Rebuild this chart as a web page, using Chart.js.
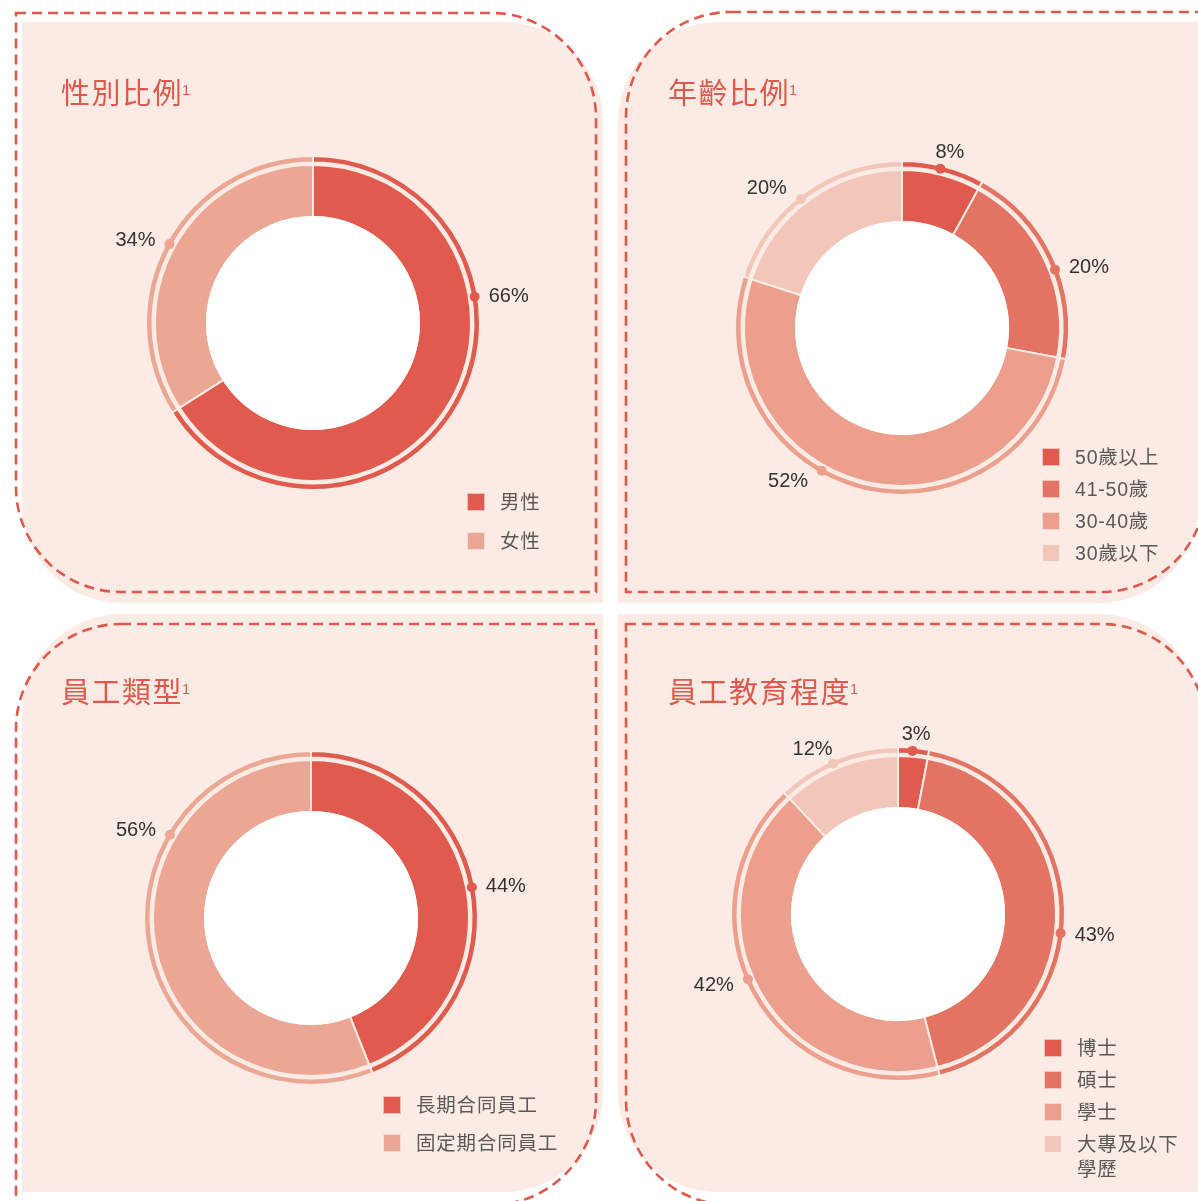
<!DOCTYPE html>
<html>
<head>
<meta charset="utf-8">
<script src="https://cdn.jsdelivr.net/npm/chart.js@4/dist/chart.umd.min.js"></script>
<style>
  html, body { margin: 0; padding: 0; }
  body { width: 1198px; height: 1201px; overflow: hidden; background: #ffffff; position: relative;
         font-family: "Liberation Sans", "Noto Sans CJK TC", sans-serif; }
  #deco { position: absolute; left: 0; top: 0; z-index: 0; }
  canvas { position: absolute; z-index: 1; }
  .title { position: absolute; z-index: 2; font-family: "Noto Sans CJK TC", sans-serif; font-size: 29px;
           line-height: 29px; letter-spacing: 1.5px; color: #e0584c; white-space: nowrap; }
  .title .sup { font-family: "Liberation Sans", sans-serif; font-size: 14.5px; line-height: 14px; letter-spacing: 0;
                vertical-align: baseline; position: relative; top: -9px; margin-left: -1px; }
  .lg-sq { position: absolute; z-index: 2; width: 18px; height: 18px; box-sizing: border-box; border: 1px solid rgba(255,255,255,0.6); }
  .lg-tx { position: absolute; z-index: 2; font-family: "Liberation Sans", "Noto Sans CJK TC", sans-serif;
           font-size: 19.5px; line-height: 25px; letter-spacing: 0.8px; color: #595959; }
</style>
</head>
<body>
<svg id="deco" width="1198" height="1201" xmlns="http://www.w3.org/2000/svg"></svg>

<script>
// ---------------- data ----------------
const genderLabels = ['男性', '女性'];
const genderValues = [66, 34];

const ageLabels = ['50歲以上', '41-50歲', '30-40歲', '30歲以下'];
const ageValues = [8, 20, 52, 20];

const typeLabels = ['長期合同員工', '固定期合同員工'];
const typeValues = [44, 56];

const eduLabels = ['博士', '碩士', '學士', '大專及以下學歷'];
const eduValues = [3, 43, 42, 12];

const panelTitles = ['性別比例', '年齡比例', '員工類型', '員工教育程度'];

// ---------------- styles ----------------
const BG = '#fbebe4';
const DASH = '#e0574c';
const twoColors = ['#e05a4e', '#eba794'];
const fourColors = ['#e05a4e', '#e37463', '#ec9f8c', '#f3c6ba'];

// ---------------- panel decoration ----------------
function rrPath(x, y, w, h, r) {
  const [tl, tr, br, bl] = r;
  return `M${x + tl},${y} H${x + w - tr} ` +
    (tr ? `A${tr},${tr} 0 0 1 ${x + w},${y + tr} ` : '') +
    `V${y + h - br} ` +
    (br ? `A${br},${br} 0 0 1 ${x + w - br},${y + h} ` : '') +
    `H${x + bl} ` +
    (bl ? `A${bl},${bl} 0 0 1 ${x},${y + h - bl} ` : '') +
    `V${y + tl} ` +
    (tl ? `A${tl},${tl} 0 0 1 ${x + tl},${y} ` : '') + 'Z';
}
const svg = document.getElementById('deco');
const bgShapes = [
  [22, 22, 581, 581, [0, 100, 0, 100]],
  [618, 22, 581, 581, [100, 0, 100, 0]],
  [22, 614, 581, 578, [100, 0, 100, 0]],
  [618, 614, 581, 578, [0, 100, 0, 100]]
];
const dashShapes = [
  [16, 13, 580, 579, [0, 105, 0, 105]],
  [626, 12, 580, 580, [105, 0, 105, 0]],
  [16, 624, 580, 581, [105, 0, 105, 0]],
  [626, 624, 580, 581, [0, 105, 0, 105]]
];
let svgInner = '';
bgShapes.forEach(s => { svgInner += `<path d="${rrPath(...s)}" fill="${BG}"/>`; });
dashShapes.forEach(s => { svgInner += `<path d="${rrPath(...s)}" fill="none" stroke="${DASH}" stroke-width="2.6" stroke-dasharray="10 6"/>`; });
svg.innerHTML = svgInner;

// ---------------- titles ----------------
const titlePos = [[61, 77], [668, 77], [61, 676], [668, 676]];
panelTitles.forEach((t, i) => {
  const d = document.createElement('div');
  d.className = 'title';
  d.style.left = titlePos[i][0] + 'px';
  d.style.top = titlePos[i][1] + 'px';
  d.innerHTML = t + '<span class="sup">1</span>';
  document.body.appendChild(d);
});

// ---------------- chart plugin: hole, dots, labels ----------------
const ringDecor = {
  id: 'ringDecor',
  afterDatasetsDraw(chart, args, opts) {
    const ctx = chart.ctx;
    const thin = chart.getDatasetMeta(0);
    const main = chart.getDatasetMeta(2);
    const first = main.data[0];
    const cx = first.x, cy = first.y;
    ctx.save();
    ctx.beginPath();
    ctx.arc(cx, cy, first.innerRadius + 1, 0, Math.PI * 2);
    ctx.fillStyle = '#ffffff';
    ctx.fill();
    const ds = chart.data.datasets[2];
    const at = opts.labelAt || [];
    main.data.forEach((arc, i) => {
      const t = thin.data[i];
      const rDot = (t.innerRadius + t.outerRadius) / 2;
      const fr = at[i] !== undefined ? at[i] : 0.5;
      const a = arc.startAngle + (arc.endAngle - arc.startAngle) * fr;
      const dx = Math.cos(a), dy = Math.sin(a);
      const px = cx + dx * rDot, py = cy + dy * rDot;
      ctx.beginPath();
      ctx.arc(px, py, 5, 0, Math.PI * 2);
      ctx.fillStyle = ds.backgroundColor[i];
      ctx.fill();
      const txt = ds.data[i] + '%';
      ctx.font = '20px "Liberation Sans", Arial, sans-serif';
      const w = ctx.measureText(txt).width;
      const ax = Math.abs(dx) > 0.45 ? px + Math.sign(dx) * 14 : px + dx * 12;
      const ay = py + dy * 11;
      const f = Math.min(0, Math.max(-1, dx - 0.5));
      const up = -dy;
      const extra = -7 * Math.min(1, Math.max(0, (up - 0.5) / 0.5));
      ctx.fillStyle = '#333333';
      ctx.textAlign = 'left';
      ctx.textBaseline = 'alphabetic';
      ctx.fillText(txt, ax + f * w, ay + extra + 7);
    });
    ctx.restore();
  }
};

const OUTER = 167, INNER = 106;
function makeDonut(center, labels, values, colors, labelAt) {
  const cv = document.createElement('canvas');
  cv.width = 500; cv.height = 500;
  cv.style.left = (center[0] - 250) + 'px';
  cv.style.top = (center[1] - 250) + 'px';
  document.body.appendChild(cv);
  new Chart(cv, {
    type: 'doughnut',
    data: {
      labels: labels,
      datasets: [
        { data: values, backgroundColor: colors, borderColor: BG, borderWidth: 2, weight: 6.5 },
        { data: [1], backgroundColor: 'rgba(0,0,0,0)', borderWidth: 0, weight: 2.5 },
        { data: values, backgroundColor: colors, borderColor: BG, borderWidth: 2, weight: 52 }
      ]
    },
    options: {
      responsive: false,
      animation: false,
      events: [],
      radius: OUTER,
      cutout: (INNER / OUTER * 100) + '%',
      layout: { padding: 0 },
      plugins: { legend: { display: false }, tooltip: { enabled: false }, ringDecor: { labelAt: labelAt } }
    },
    plugins: [ringDecor]
  });
}

function makeLegend(sqLeft, firstCenter, step, labels, colors, maxWidth) {
  labels.forEach((lab, i) => {
    const yc = firstCenter + i * step;
    const sq = document.createElement('div');
    sq.className = 'lg-sq';
    sq.style.left = sqLeft + 'px';
    sq.style.top = (yc - 9) + 'px';
    sq.style.background = colors[i];
    document.body.appendChild(sq);
    const tx = document.createElement('div');
    tx.className = 'lg-tx';
    tx.style.left = (sqLeft + 33) + 'px';
    tx.style.top = (yc - 12.5) + 'px';
    tx.style.width = maxWidth + 'px';
    tx.textContent = lab;
    document.body.appendChild(tx);
  });
}

// label anchor: fraction along each arc where the value label sits
makeDonut([312.5, 322.5], genderLabels, genderValues, twoColors, [0.34, 0.5]);
makeDonut([902, 327.5], ageLabels, ageValues, fourColors, [0.47, 0.56, 0.58, 0.47]);
makeDonut([310.5, 918], typeLabels, typeValues, twoColors, [0.5, 0.705]);
makeDonut([898, 914], eduLabels, eduValues, fourColors, [0.47, 0.555, 0.535, 0.46]);

makeLegend(467, 502, 39, genderLabels, twoColors, 120);
makeLegend(1042, 457, 32, ageLabels, fourColors, 130);
makeLegend(383, 1105, 38, typeLabels, twoColors, 190);
makeLegend(1044, 1048, 32, eduLabels, fourColors, 112);
</script>
</body>
</html>
